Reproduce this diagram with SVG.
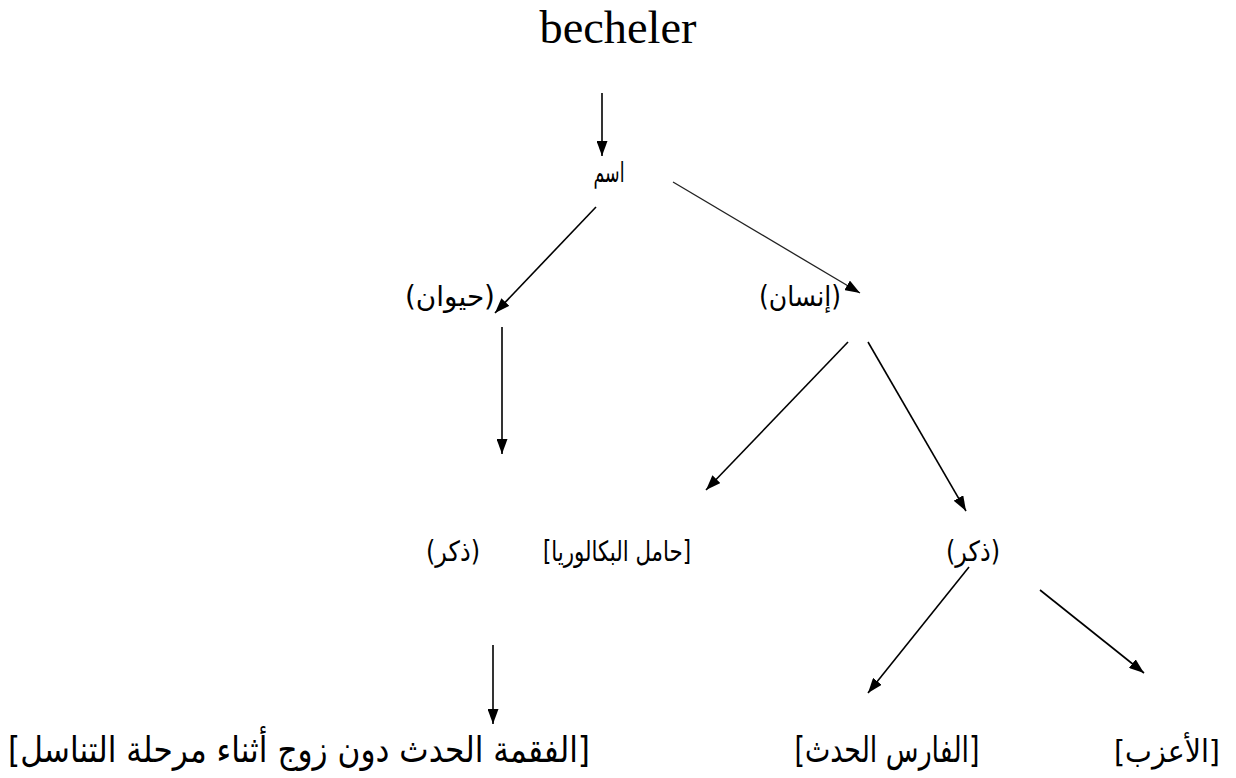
<svg xmlns="http://www.w3.org/2000/svg" width="1236" height="778" viewBox="0 0 1236 778">
<style>
  .lat { font-family: "Liberation Serif", "DejaVu Serif", serif; fill: #000; }
  .ar { font-family: "DejaVu Sans", "Noto Sans", sans-serif; fill: #000; direction: rtl; unicode-bidi: embed; }
  .m { font-size: 28px; }
  .b { font-size: 36px; }
  .conn line { stroke: #000; stroke-width: 1.6; fill: none; }
</style>
<defs>
  <marker id="ah" viewBox="0 0 15 11" refX="15" refY="5.5" markerWidth="15" markerHeight="11" markerUnits="userSpaceOnUse" orient="auto">
    <path d="M0,0 L15,5.5 L0,11 Z" fill="#000"/>
  </marker>
</defs>
<rect width="1236" height="778" fill="#fff"/>
<g class="conn">
  <line x1="602" y1="93" x2="602" y2="156" marker-end="url(#ah)"/>
  <line x1="596" y1="207" x2="495" y2="313" marker-end="url(#ah)"/>
  <line x1="673" y1="182" x2="860" y2="293" marker-end="url(#ah)" style="stroke:#222;stroke-width:1.3"/>
  <line x1="502" y1="327" x2="502" y2="454" marker-end="url(#ah)"/>
  <line x1="848" y1="342" x2="706" y2="490" marker-end="url(#ah)"/>
  <line x1="868" y1="342" x2="966" y2="511" marker-end="url(#ah)"/>
  <line x1="969" y1="567" x2="868" y2="693" marker-end="url(#ah)"/>
  <line x1="1040" y1="590" x2="1144" y2="673" marker-end="url(#ah)"/>
  <line x1="493" y1="645" x2="493" y2="724" marker-end="url(#ah)"/>
</g>
<g id="n-becheler"><text class="lat" x="618" y="43" font-size="46" text-anchor="middle" textLength="157" lengthAdjust="spacingAndGlyphs">becheler</text></g>
<g id="n-ism"><text class="ar" x="609" y="182" font-size="28" text-anchor="middle" textLength="31" lengthAdjust="spacingAndGlyphs">اسم</text></g>
<g id="n-hayawan"><text class="ar m" x="450" y="306" text-anchor="middle" textLength="90" lengthAdjust="spacingAndGlyphs">(حيوان)</text></g>
<g id="n-insan"><text class="ar m" x="800" y="306" text-anchor="middle" textLength="82" lengthAdjust="spacingAndGlyphs">(إنسان)</text></g>
<g id="n-dhakar1"><text class="ar m" x="453" y="561" text-anchor="middle" textLength="54" lengthAdjust="spacingAndGlyphs">(ذكر)</text></g>
<g id="n-hamil"><text class="ar m" x="617" y="561" text-anchor="middle" textLength="148" lengthAdjust="spacingAndGlyphs">[حامل البكالوريا]</text></g>
<g id="n-dhakar2"><text class="ar m" x="973" y="561" text-anchor="middle" textLength="54" lengthAdjust="spacingAndGlyphs">(ذكر)</text></g>
<g id="n-fuqma"><text class="ar b" x="299" y="762" text-anchor="middle" textLength="582" lengthAdjust="spacingAndGlyphs">[الفقمة الحدث دون زوج أثناء مرحلة التناسل]</text></g>
<g id="n-faris"><text class="ar b" x="887" y="762" text-anchor="middle" textLength="185" lengthAdjust="spacingAndGlyphs">[الفارس الحدث]</text></g>
<g id="n-aazab"><text class="ar" x="1167" y="762" font-size="31" text-anchor="middle" textLength="106" lengthAdjust="spacingAndGlyphs">[الأعزب]</text></g>
</svg>
